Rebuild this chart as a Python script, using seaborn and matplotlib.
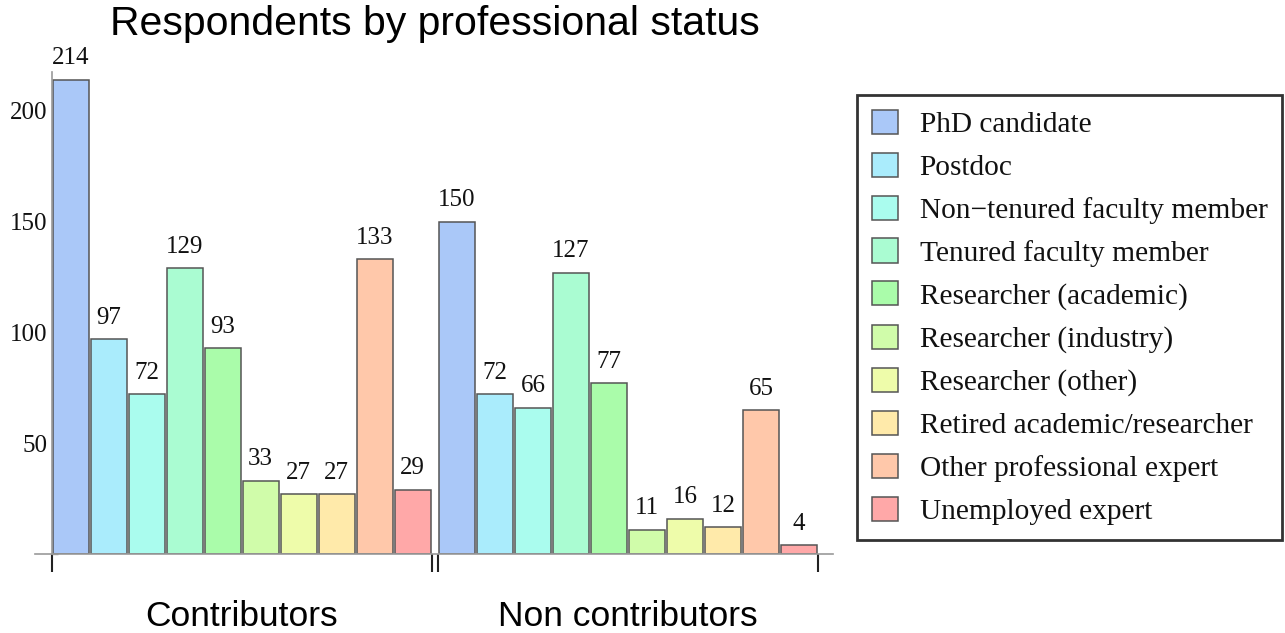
import matplotlib
matplotlib.use("Agg")
import matplotlib.pyplot as plt
import seaborn as sns
import pandas as pd
from matplotlib.ticker import MultipleLocator, FixedLocator

groups = ["Contributors", "Non contributors"]
statuses = [
    "PhD candidate",
    "Postdoc",
    "Non\u2212tenured faculty member",
    "Tenured faculty member",
    "Researcher (academic)",
    "Researcher (industry)",
    "Researcher (other)",
    "Retired academic/researcher",
    "Other professional expert",
    "Unemployed expert",
]
contributors = [214, 97, 72, 129, 93, 33, 27, 27, 133, 29]
non_contributors = [150, 72, 66, 127, 77, 11, 16, 12, 65, 4]
colors = ["#aac8f8", "#aaecfc", "#aafcee", "#aafcd2", "#aafcaa",
          "#d0fcaa", "#eefcaa", "#ffeaaa", "#ffc8aa", "#ffa8a8"]

df = pd.DataFrame({
    "group": [groups[0]] * len(statuses) + [groups[1]] * len(statuses),
    "status": statuses * 2,
    "count": contributors + non_contributors,
})

sns.set_theme(style="white")
plt.rcParams["font.family"] = ["Liberation Serif", "DejaVu Serif"]

fig = plt.figure(figsize=(12.85, 6.33), dpi=100)
ax = fig.add_axes([35 / 1285, 79 / 633, 798 / 1285, 482.3 / 633])

gw = 0.984
sns.barplot(data=df, x="group", y="count", hue="status", hue_order=statuses,
            order=groups, palette=colors, width=gw, gap=0.05,
            edgecolor="#555555", linewidth=1.1, saturation=1, ax=ax, legend=True)

# value labels above each bar
for c in ax.containers:
    ax.bar_label(c, padding=7.5, fontsize=18, color="#111111")

ax.set_xlim(-0.535, 1.531)
ax.set_ylim(0, 217.7)
ax.set_xlabel("")
ax.set_ylabel("")

for s in ["top", "right"]:
    ax.spines[s].set_visible(False)
ax.spines["left"].set_position(("data", -gw / 2))
ax.spines["left"].set_color("#999999")
ax.spines["bottom"].set_color("#999999")
ax.spines["left"].set_linewidth(1.2)
ax.spines["bottom"].set_linewidth(1.2)

ax.yaxis.set_major_locator(FixedLocator([50, 100, 150, 200]))
ax.yaxis.set_minor_locator(MultipleLocator(10))
ax.tick_params(axis="y", which="major", direction="in", length=7, width=1,
               color="#999999", labelsize=18, labelcolor="#111111", pad=3)
ax.tick_params(axis="y", which="minor", direction="in", length=4, width=1,
               color="#999999", left=True)

# group boundary ticks under the axis
edges = [-gw / 2, gw / 2, 1 - gw / 2, 1 + gw / 2]
ax.xaxis.set_minor_locator(FixedLocator(edges))
ax.tick_params(axis="x", which="minor", direction="out", length=13, width=1.5,
               color="#222222", bottom=True)
ax.tick_params(axis="x", which="major", length=0, pad=33)
for lab in ax.get_xticklabels():
    lab.set_fontfamily(["Liberation Sans", "DejaVu Sans"])
    lab.set_fontsize(25.5)
    lab.set_color("black")

fig.text(435 / 1285, 1 - 24 / 633, "Respondents by professional status",
         ha="center", va="center", fontsize=29.5,
         family=["Liberation Sans", "DejaVu Sans"], color="black")

leg = ax.legend(loc="upper left", bbox_to_anchor=(857 / 1285, 1 - 95 / 633),
                bbox_transform=fig.transFigure, borderaxespad=0,
                fontsize=21.2, handlelength=0.88, handleheight=0.88,
                handletextpad=0.75, labelspacing=0.5, borderpad=0.5,
                frameon=True, fancybox=False, title=None)
leg.get_frame().set_edgecolor("black")
leg.get_frame().set_linewidth(2)
for p in leg.get_patches():
    p.set_edgecolor("#555555")
    p.set_linewidth(1.1)
for t in leg.get_texts():
    t.set_color("#111111")

fig.savefig("out.png", dpi=100)
